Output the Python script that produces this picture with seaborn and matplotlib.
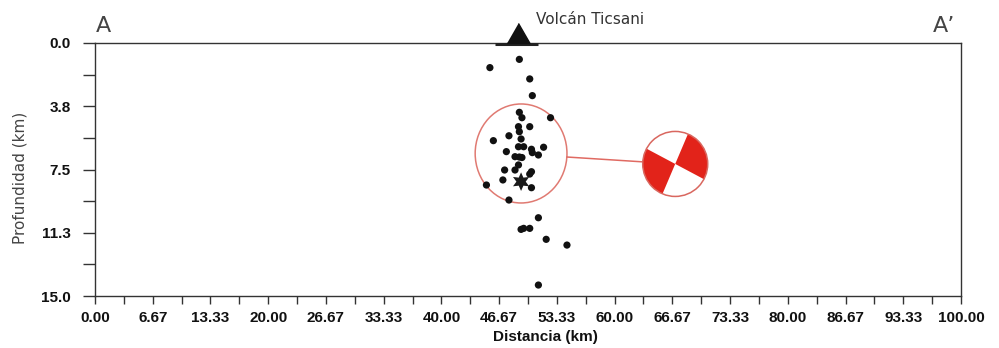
import numpy as np
import pandas as pd
import matplotlib
matplotlib.use("Agg")
import matplotlib.pyplot as plt
import matplotlib.transforms as mtransforms
from matplotlib.patches import Ellipse, Wedge, Circle
import seaborn as sns

# Hypocentres projected onto the A-A' profile
distance_km = [49.0, 45.6, 50.2, 50.5, 49.0, 49.3, 52.6, 48.9, 50.2, 49.0,
               47.8, 49.2, 46.0, 48.9, 49.5, 50.4, 51.8, 47.5, 50.5, 48.5,
               49.0, 49.3, 51.2, 48.9, 47.3, 48.5, 50.4, 50.2, 47.1, 50.4,
               45.2, 47.8, 51.2, 49.2, 49.5, 50.2, 52.1, 54.5, 51.2]
depth_km = [0.97, 1.46, 2.13, 3.12, 4.11, 4.43, 4.43, 4.96, 4.96, 5.26,
            5.50, 5.69, 5.79, 6.15, 6.15, 6.30, 6.18, 6.44, 6.50, 6.74,
            6.76, 6.79, 6.64, 7.23, 7.53, 7.53, 7.63, 7.77, 8.12, 8.58,
            8.42, 9.31, 10.36, 11.05, 10.99, 10.99, 11.64, 11.98, 14.35]

# Main event
mainshock_distance = 49.2
mainshock_depth = 8.22

# Volcano location along the profile
volcano_distance = 48.9
volcano_name = "Volcán Ticsani"

# Cluster outline and focal mechanism
cluster_center = (49.2, 6.55)
cluster_size = (10.6, 5.87)
mechanism_center = (67.0, 7.17)
mechanism_radius_pt = 23.4
nodal_plane_angles = [67.0, 152.0]   # screen angles of the two nodal lines

# Axis ticks
distance_ticks = [0.0, 6.667, 13.333, 20.0, 26.667, 33.333, 40.0, 46.667,
                  53.333, 60.0, 66.667, 73.333, 80.0, 86.667, 93.333, 100.0]
distance_labels = ["0.00", "6.67", "13.33", "20.00", "26.67", "33.33", "40.00",
                   "46.67", "53.33", "60.00", "66.67", "73.33", "80.00",
                   "86.67", "93.33", "100.00"]
depth_ticks = [0.0, 3.75, 7.5, 11.25, 15.0]
depth_labels = ["0.0", "3.8", "7.5", "11.3", "15.0"]

sns.set_theme(style="white")
plt.rcParams["font.family"] = ["DejaVu Sans"]

W, H = 999, 348
fig = plt.figure(figsize=(W / 100, H / 100), dpi=100)
ax = fig.add_axes([95 / W, 1 - 296 / H, 866 / W, 253 / H])

events = pd.DataFrame({"Distancia": distance_km, "Profundidad": depth_km})
sns.scatterplot(data=events, x="Distancia", y="Profundidad", ax=ax,
                color="#111111", s=27, marker="o", edgecolor="none",
                zorder=3, legend=False)
sns.scatterplot(x=[mainshock_distance], y=[mainshock_depth], ax=ax,
                marker=(6, 1, 0), s=180, color="#1a1a1a", edgecolor="none",
                zorder=4, legend=False)

ax.set_xlim(0, 100)
ax.set_ylim(15, 0)

# Cluster outline
ax.add_patch(Ellipse(cluster_center, cluster_size[0], cluster_size[1],
                     fill=False, edgecolor="#e07a72", lw=1.1, zorder=2))

# Focal mechanism drawn in screen units so it stays round
r_px = mechanism_radius_pt * fig.dpi / 72
bb_trans = (mtransforms.Affine2D().scale(r_px)
            + mtransforms.ScaledTranslation(mechanism_center[0],
                                            mechanism_center[1], ax.transData))
a1, a2 = nodal_plane_angles
ax.add_patch(Circle((0, 0), 1, facecolor="white", edgecolor="none",
                    transform=bb_trans, zorder=4))
ax.add_patch(Wedge((0, 0), 1, a2 + 180 - 360, a1, facecolor="#e2231a",
                   edgecolor="none", transform=bb_trans, zorder=5))
ax.add_patch(Wedge((0, 0), 1, a2, a1 + 180, facecolor="#e2231a",
                   edgecolor="none", transform=bb_trans, zorder=5))
ax.add_patch(Circle((0, 0), 1, fill=False, edgecolor="#d9675f", lw=1.1,
                    transform=bb_trans, zorder=6))

# Leader from the cluster to the mechanism
ax.annotate("", xy=mechanism_center,
            xytext=(cluster_center[0] + cluster_size[0] / 2, 6.76),
            arrowprops=dict(arrowstyle="-", color="#e06a62", lw=1.1,
                            shrinkA=0, shrinkB=mechanism_radius_pt),
            zorder=3)

# Volcano symbol sitting on the surface
tri_trans = mtransforms.offset_copy(ax.get_xaxis_transform(), fig=fig,
                                    y=10 * 72 / 100, units="points")
ax.plot([volcano_distance], [1.0], transform=tri_trans, clip_on=False,
        marker=[(-1.15, -1), (1.15, -1), (0, 1)], ms=16.6, color="#111111",
        ls="none", zorder=6)
ax.plot([volcano_distance - 2.7, volcano_distance + 2.3], [0.05, 0.05],
        color="#222222", lw=2.2, solid_capstyle="butt", zorder=5)
fig.text(536 / W, 1 - 23.5 / H, volcano_name, ha="left", va="baseline",
         fontsize=11, color="#333333")

# Profile end labels
fig.text(103 / W, 1 - 32 / H, "A", ha="center", va="baseline",
         fontsize=16, color="#444444")
fig.text(944 / W, 1 - 32 / H, "A\u2019", ha="center", va="baseline",
         fontsize=16, color="#444444")

# Axes styling
for side in ["left", "right", "top", "bottom"]:
    ax.spines[side].set_visible(True)
    ax.spines[side].set_color("#333333")
    ax.spines[side].set_linewidth(1.0)

tick_font = dict(family="Liberation Sans", weight="bold", size=11)
ax.set_xticks(distance_ticks)
ax.set_xticklabels(distance_labels, fontdict=tick_font, color="#111111")
ax.set_xticks([(a + b) / 2 for a, b in zip(distance_ticks[:-1], distance_ticks[1:])],
              minor=True)
ax.set_yticks(depth_ticks)
ax.set_yticklabels(depth_labels, fontdict=tick_font, color="#111111")
ax.set_yticks([(a + b) / 2 for a, b in zip(depth_ticks[:-1], depth_ticks[1:])],
              minor=True)

ax.tick_params(axis="x", which="both", direction="out", length=6, width=1,
               color="#333333", pad=4.5, bottom=True, top=False)
ax.tick_params(axis="y", which="both", direction="out", length=8.6, width=1,
               color="#333333", pad=9, left=True, right=False)

ax.set_xlabel("Distancia (km)", fontdict=dict(family="Liberation Sans",
                                               weight="bold", size=11),
              color="#111111")
ax.xaxis.set_label_coords((545 - 95) / 866, (296 - 330) / 253)
ax.xaxis.label.set_va("top")
ax.set_ylabel("Profundidad (km)", fontsize=11, color="#444444")
ax.yaxis.set_label_coords((20 - 95) / 866, (296 - 178) / 253)
ax.yaxis.label.set_va("center")

ax.grid(False)
fig.savefig("out.png", dpi=100, facecolor="white")
